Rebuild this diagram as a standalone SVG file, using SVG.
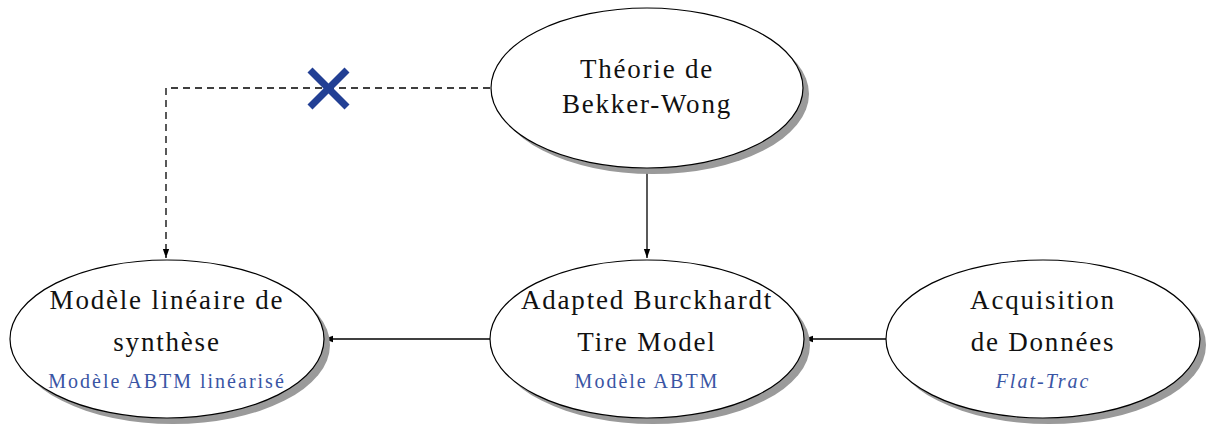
<svg xmlns="http://www.w3.org/2000/svg" width="1206" height="425" viewBox="0 0 1206 425" font-family="Liberation Serif, Times New Roman, DejaVu Serif, Times, serif">
<defs>
<marker id="arr" viewBox="0 0 10 10" refX="10" refY="5" markerWidth="9" markerHeight="9" markerUnits="userSpaceOnUse" orient="auto">
<path d="M0,1.5 L10,5 L0,8.5 z" fill="#000"/>
</marker>
</defs>
<style>
.sh{fill:#9a9a9a;stroke:none}
.el{fill:#ffffff;stroke:#000;stroke-width:1.2}
.t{font-size:27px;letter-spacing:1.8px;fill:#111111;text-anchor:middle}
.b{font-size:20px;letter-spacing:2px;fill:#3a55a4;text-anchor:middle}
.c{fill:none;stroke:#000;stroke-width:1.3}
</style>
<rect width="1206" height="425" fill="#ffffff"/>
<g id="connectors">
<path class="c" d="M490,88 H166 V258" stroke-dasharray="7,5" marker-end="url(#arr)"/>
<path class="c" d="M647,167 V258" marker-end="url(#arr)"/>
<path class="c" d="M490,339 H324" marker-end="url(#arr)"/>
<path class="c" d="M886,339 H804" marker-end="url(#arr)"/>
<g id="cross" stroke="#223f94" stroke-width="7">
<line x1="310" y1="70" x2="347" y2="107"/>
<line x1="347" y1="70" x2="310" y2="107"/>
</g>
</g>
<g id="bekker">
<ellipse class="sh" cx="653" cy="94" rx="156" ry="80"/>
<ellipse class="el" cx="647" cy="88" rx="156" ry="80"/>
<text class="t" x="647" y="78">Théorie de</text>
<text class="t" x="647" y="113">Bekker-Wong</text>
</g>
<g id="lineaire">
<ellipse class="sh" cx="173" cy="345" rx="157" ry="79"/>
<ellipse class="el" cx="167" cy="339" rx="157" ry="79"/>
<text class="t" x="167" y="309">Modèle linéaire de</text>
<text class="t" x="167" y="351">synthèse</text>
<text class="b" x="167" y="388">Modèle ABTM linéarisé</text>
</g>
<g id="abtm">
<ellipse class="sh" cx="653" cy="345" rx="157" ry="79"/>
<ellipse class="el" cx="647" cy="339" rx="157" ry="79"/>
<text class="t" x="647" y="309">Adapted Burckhardt</text>
<text class="t" x="647" y="351">Tire Model</text>
<text class="b" x="647" y="388">Modèle ABTM</text>
</g>
<g id="acquisition">
<ellipse class="sh" cx="1049" cy="345" rx="157" ry="79"/>
<ellipse class="el" cx="1043" cy="339" rx="157" ry="79"/>
<text class="t" x="1043" y="309">Acquisition</text>
<text class="t" x="1043" y="351">de Données</text>
<text class="b" x="1043" y="388" font-style="italic">Flat-Trac</text>
</g>
</svg>
